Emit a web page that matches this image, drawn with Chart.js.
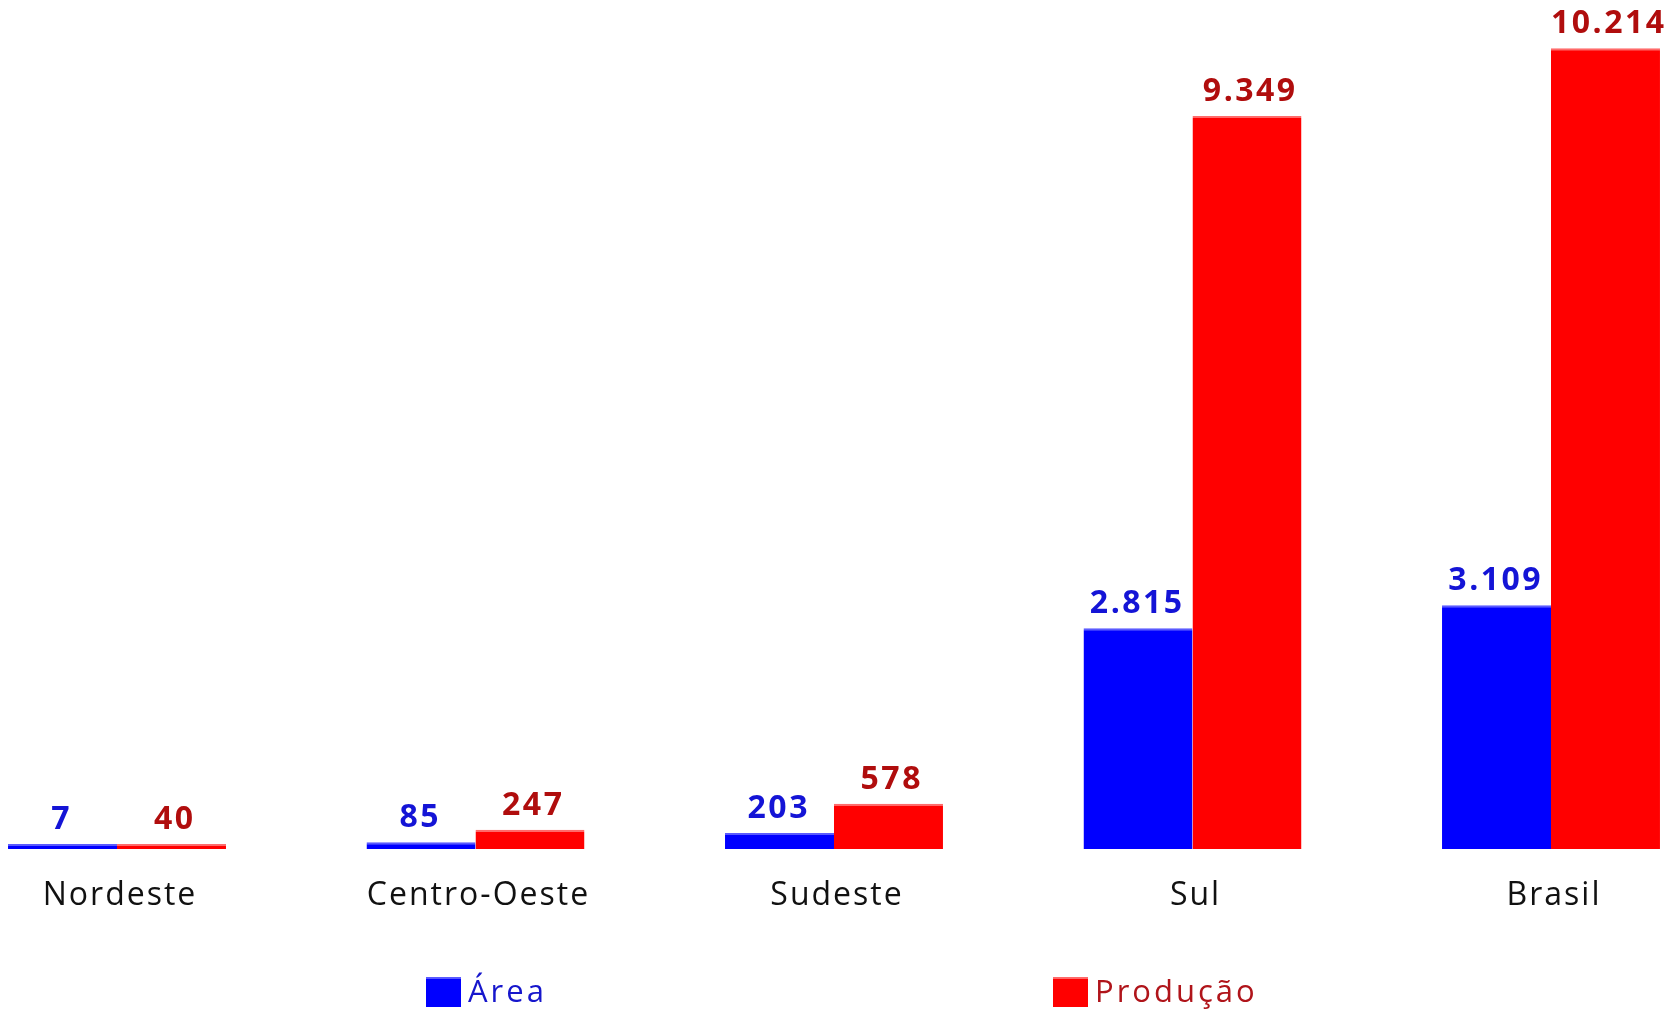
<!DOCTYPE html>
<html>
<head>
<meta charset="utf-8">
<script src="https://cdn.jsdelivr.net/npm/chart.js@4.4.1/dist/chart.umd.min.js"></script>
<style>
  html, body { margin: 0; padding: 0; background: #ffffff; }
  #wrap { position: relative; width: 1671px; height: 1011px; }
</style>
</head>
<body>
<div id="wrap"><canvas id="c" width="1671" height="1011"></canvas></div>
<script>
// ---- data ----
const categories = ['Nordeste', 'Centro-Oeste', 'Sudeste', 'Sul', 'Brasil'];
const areaValues = [7, 85, 203, 2815, 3109];
const producaoValues = [40, 247, 578, 9349, 10214];
const seriesNames = ['Área', 'Produção'];

// ---- styles ----
const barColors = ['#0000ff', '#ff0000'];
const rimColors = ['#5a5aff', '#ff6a6a'];
const valueColors = ['#1414d6', '#b00d0d'];
const valueShift = [-2, 2];
const legendTextColors = ['#1616cc', '#b0141a'];
const FONT = '"Open Sans", "Noto Sans", sans-serif';

function fmt(v) {
  return String(v).replace(/\B(?=(\d{3})+(?!\d))/g, '.');
}

const spacingPlugin = {
  id: 'spacing',
  beforeUpdate(chart) { chart.ctx.letterSpacing = '2px'; },
  beforeDraw(chart) { chart.ctx.letterSpacing = '2px'; }
};

const valueLabels = {
  id: 'valueLabels',
  afterDatasetsDraw(chart) {
    const ctx = chart.ctx;
    chart.data.datasets.forEach((ds, di) => {
      const meta = chart.getDatasetMeta(di);
      meta.data.forEach((bar, i) => {
        ctx.save();
        ctx.letterSpacing = '2.5px';
        ctx.font = 'bold 32px ' + FONT;
        ctx.fillStyle = valueColors[di];
        ctx.textAlign = 'center';
        ctx.textBaseline = 'alphabetic';
        ctx.fillText(fmt(ds.data[i]), bar.x + 1.25 + valueShift[di], bar.y - 15);
        ctx.restore();
      });
    });
  }
};

const customLegend = {
  id: 'customLegend',
  afterDraw(chart) {
    const ctx = chart.ctx;
    const itemX = [426, 1053];
    chart.data.datasets.forEach((ds, di) => {
      const x = itemX[di];
      ctx.save();
      ctx.fillStyle = barColors[di];
      ctx.fillRect(x, 977, 35, 30);
      ctx.fillStyle = rimColors[di];
      ctx.fillRect(x, 977, 35, 2);
      ctx.letterSpacing = '3px';
      ctx.font = '31px ' + FONT;
      ctx.fillStyle = legendTextColors[di];
      ctx.textAlign = 'left';
      ctx.textBaseline = 'alphabetic';
      ctx.fillText(ds.label, x + 42, 1002);
      ctx.restore();
    });
  }
};

new Chart(document.getElementById('c'), {
  type: 'bar',
  data: {
    labels: categories,
    datasets: [
      { label: seriesNames[0], data: areaValues, backgroundColor: barColors[0], borderColor: rimColors[0], clip: false },
      { label: seriesNames[1], data: producaoValues, backgroundColor: barColors[1], borderColor: rimColors[1], clip: false }
    ]
  },
  options: {
    responsive: false,
    devicePixelRatio: 1,
    animation: false,
    layout: { padding: { left: 117, right: 120, top: 0, bottom: 0 } },
    datasets: { bar: { categoryPercentage: 0.608, barPercentage: 1.0, minBarLength: 5,
      borderWidth: { top: 2, left: 0, right: 0, bottom: 0 }, borderSkipped: 'bottom' } },
    plugins: { legend: { display: false }, tooltip: { enabled: false } },
    scales: {
      x: {
        offset: false,
        grid: { display: false, drawTicks: false },
        border: { display: false },
        ticks: {
          color: '#111111',
          font: { family: FONT, size: 32 },
          padding: 28,
          labelOffset: 3,
          maxRotation: 0,
          autoSkip: false
        },
        afterFit(scale) { scale.height = 162; }
      },
      y: {
        display: false,
        min: 0,
        max: 10830
      }
    }
  },
  plugins: [spacingPlugin, valueLabels, customLegend]
});
</script>
</body>
</html>
